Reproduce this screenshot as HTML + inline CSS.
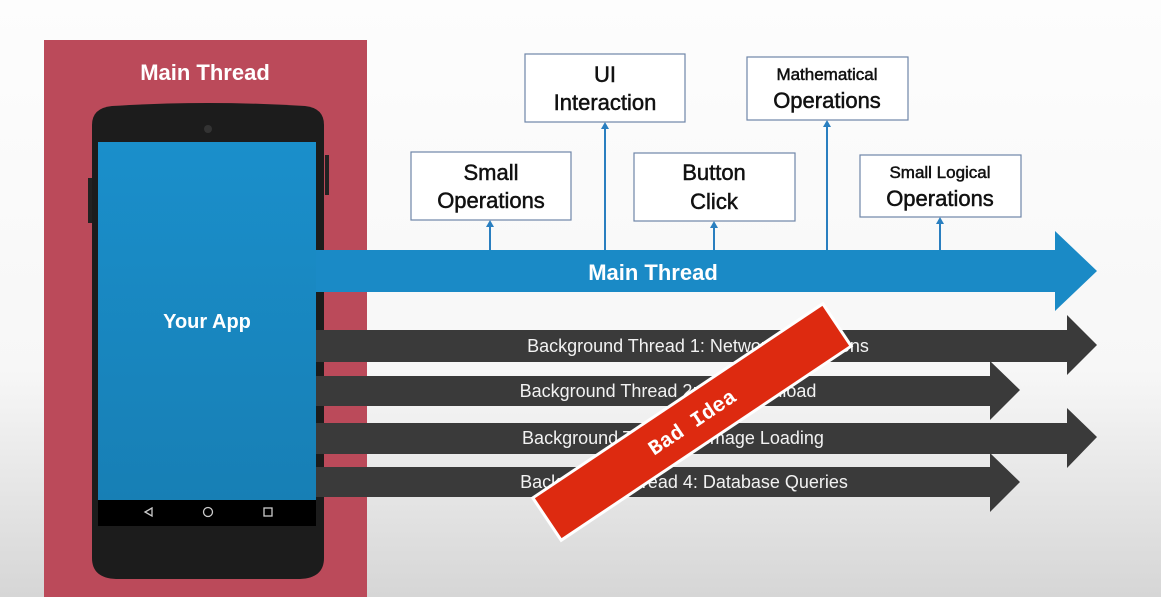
<!DOCTYPE html>
<html><head><meta charset="utf-8"><style>
html,body{margin:0;padding:0;width:1161px;height:597px;overflow:hidden}
svg{display:block}
</style></head><body>
<svg width="1161" height="597" viewBox="0 0 1161 597" xmlns="http://www.w3.org/2000/svg" font-family="Liberation Sans, sans-serif">
<defs>
<linearGradient id="bg" x1="0" y1="0" x2="0" y2="1">
<stop offset="0" stop-color="#fdfdfd"/><stop offset="0.62" stop-color="#f7f7f7"/><stop offset="1" stop-color="#d6d6d6"/>
</linearGradient>
<linearGradient id="scr" x1="0" y1="0" x2="0" y2="1">
<stop offset="0" stop-color="#1a8fcb"/><stop offset="1" stop-color="#177fb5"/>
</linearGradient>
</defs>
<rect width="1161" height="597" fill="url(#bg)"/>
<rect x="44" y="40" width="323" height="557" fill="#bb4a5a"/>
<text x="205" y="80" text-anchor="middle" font-size="22" font-weight="bold" fill="#fff">Main Thread</text>
<rect x="88" y="178" width="4" height="45" fill="#222"/>
<rect x="325" y="155" width="4" height="40" fill="#222"/>
<path d="M92,125 Q92,108 112,106 Q208,100 305,106 Q324,108 324,125 L324,558 Q324,578 300,579 L116,579 Q92,578 92,558 Z" fill="#1c1c1c"/>
<circle cx="208" cy="129" r="4" fill="#333"/>
<rect x="98" y="142" width="218" height="358" fill="url(#scr)"/>
<rect x="98" y="500" width="218" height="26" fill="#000"/>
<text x="207" y="328" text-anchor="middle" font-size="20" font-weight="bold" fill="#fff">Your App</text>
<path d="M152,508 L145,512 L152,516 Z" fill="none" stroke="#ccc" stroke-width="1.3"/>
<circle cx="208" cy="512" r="4.5" fill="none" stroke="#ccc" stroke-width="1.3"/>
<rect x="264" y="508" width="8" height="8" fill="none" stroke="#ccc" stroke-width="1.3"/>
<path d="M316,250 L1055,250 L1055,231 L1097,271 L1055,311 L1055,292 L316,292 Z" fill="#1a8ac6"/>
<text x="653" y="280" text-anchor="middle" font-size="22" font-weight="bold" fill="#fff">Main Thread</text>
<g stroke="#2a7fc0" stroke-width="2">
<line x1="490" y1="250" x2="490" y2="222"/>
<line x1="605" y1="250" x2="605" y2="124"/>
<line x1="714" y1="250" x2="714" y2="223"/>
<line x1="827" y1="250" x2="827" y2="122"/>
<line x1="940" y1="250" x2="940" y2="219"/>
</g>
<g fill="#2a7fc0">
<path d="M486,227 L490,220 L494,227 Z"/>
<path d="M601,129 L605,122 L609,129 Z"/>
<path d="M710,228 L714,221 L718,228 Z"/>
<path d="M823,127 L827,120 L831,127 Z"/>
<path d="M936,224 L940,217 L944,224 Z"/>
</g>
<g fill="#fff" stroke="#6f86a8" stroke-width="1.2">
<rect x="411" y="152" width="160" height="68"/>
<rect x="525" y="54" width="160" height="68"/>
<rect x="634" y="153" width="161" height="68"/>
<rect x="747" y="57" width="161" height="63"/>
<rect x="860" y="155" width="161" height="62"/>
</g>
<g fill="#111" text-anchor="middle" font-size="22" stroke="#111" stroke-width="0.5">
<text x="491" y="180">Small</text><text x="491" y="208">Operations</text>
<text x="605" y="82">UI</text><text x="605" y="110">Interaction</text>
<text x="714" y="180">Button</text><text x="714" y="209">Click</text>
<text x="827" y="80" font-size="17">Mathematical</text><text x="827" y="108">Operations</text>
<text x="940" y="178" font-size="17">Small Logical</text><text x="940" y="206">Operations</text>
</g>
<g fill="#3a3a3a">
<path d="M316,330 L1067,330 L1067,315 L1097,345 L1067,375 L1067,362 L316,362 Z"/>
<path d="M316,376 L990,376 L990,361 L1020,390 L990,420 L990,406 L316,406 Z"/>
<path d="M316,423 L1067,423 L1067,408 L1097,437 L1067,468 L1067,454 L316,454 Z"/>
<path d="M316,467 L990,467 L990,453 L1020,482 L990,512 L990,497 L316,497 Z"/>
</g>
<g fill="#f2f2f2" font-size="18" text-anchor="middle">
<text x="698" y="352">Background Thread 1: Network Operations</text>
<text x="668" y="397">Background Thread 2: File Download</text>
<text x="673" y="444">Background Thread 3: Image Loading</text>
<text x="684" y="488">Background Thread 4: Database Queries</text>
</g>
<g transform="translate(692,422) rotate(-33.8)">
<rect x="-176" y="-27" width="352" height="54" fill="#fff"/>
<rect x="-173" y="-24" width="346" height="48" fill="#dd2a10"/>
<text x="0" y="7" text-anchor="middle" font-family="Liberation Mono, monospace" font-size="21" font-weight="bold" fill="#fff">Bad Idea</text>
</g>
</svg>
</body></html>
